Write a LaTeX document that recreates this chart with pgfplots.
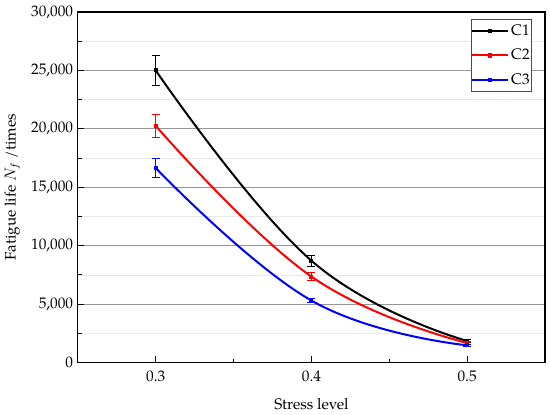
\documentclass[border=0pt]{standalone}
\usepackage{pgfplots}
\pgfplotsset{compat=1.18}
\usepackage{fontspec}
\setmainfont{TeX Gyre Pagella}
\definecolor{majgrid}{RGB}{150,150,150}
\definecolor{mingrid}{RGB}{232,232,232}
\begin{document}
\begin{tikzpicture}
\begin{axis}[
  scale only axis,
  width=351.75pt, height=264pt,
  xmin=0.25, xmax=0.55,
  ymin=0, ymax=30000,
  xtick={0.3,0.4,0.5},
  minor xtick={0.35,0.45},
  ytick={0,5000,10000,15000,20000,25000,30000},
  minor ytick={2500,7500,12500,17500,22500,27500},
  tick pos=left,
  tick align=inside,
  major tick length=5pt,
  minor tick length=3pt,
  tick style={black, line width=0.8pt},
  axis line style={line width=1pt},
  ymajorgrids, yminorgrids,
  major grid style={majgrid, line width=0.6pt},
  minor grid style={mingrid, line width=0.6pt},
  scaled y ticks=false,
  /pgf/number format/assume math mode=true,
  yticklabel style={/pgf/number format/.cd, fixed, 1000 sep={,}},
  xticklabel style={yshift=-3pt, /pgf/number format/.cd, fixed, fixed zerofill, precision=1},
  ticklabel style={font=\fontsize{11.5}{13}\selectfont},
  label style={font=\fontsize{11.5}{13}\selectfont},
  xlabel={Stress level},
  ylabel={Fatigue life $N_f$ /times},
  xlabel style={yshift=-5pt},
  ylabel style={yshift=1.5pt},
  legend style={at={(1,1)}, anchor=north east, xshift=-9.75pt, yshift=-5.25pt,
    draw=black!70, line width=0.6pt, font=\fontsize{11.5}{13}\selectfont,
    row sep=5.5pt, inner xsep=0pt, inner ysep=2.75pt,
    nodes={inner sep=1.5pt}},
  legend cell align=left,
  legend image code/.code={\draw[mark repeat=2,mark phase=2] plot coordinates {(0cm,0cm) (0.475cm,0cm) (0.95cm,0cm)};},
  every axis plot/.append style={line width=1.5pt},
  error bars/error bar style={line width=0.6pt},
  error bars/error mark options={rotate=90, mark size=3pt, line width=0.6pt},
]
\addplot[black, smooth, tension=0.72, mark=square*, mark size=0.8pt,
  error bars/.cd, y dir=both, y explicit]
  coordinates {(0.3,25000) +- (0,1250) (0.4,8720) +- (0,450) (0.5,1850) +- (0,150)};
\addlegendentry{C1}
\addplot[red, smooth, tension=0.72, mark=square*, mark size=0.8pt,
  error bars/.cd, y dir=both, y explicit]
  coordinates {(0.3,20260) +- (0,1000) (0.4,7360) +- (0,330) (0.5,1680) +- (0,130)};
\addlegendentry{C2}
\addplot[blue, smooth, tension=0.72, mark=square*, mark size=0.8pt,
  error bars/.cd, y dir=both, y explicit]
  coordinates {(0.3,16650) +- (0,820) (0.4,5310) +- (0,200) (0.5,1480) +- (0,120)};
\addlegendentry{C3}
\end{axis}
\path ([shift={(-57pt,-39pt)}]current axis.south west) rectangle ([shift={(3.75pt,9pt)}]current axis.north east);
\end{tikzpicture}
\end{document}
